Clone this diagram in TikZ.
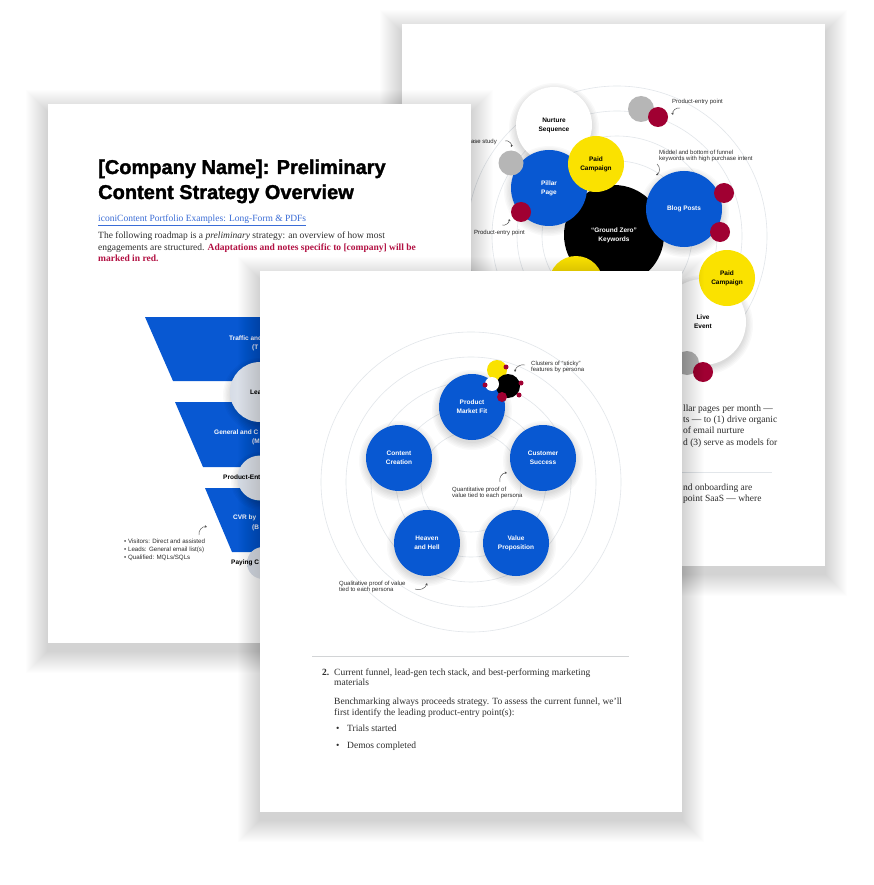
\documentclass[tikz,border=0pt]{standalone}
\usepackage{fontspec}
\newfontfamily\lsans{Liberation Sans}
\newfontfamily\heavy{Liberation Sans}[BoldFeatures={FakeBold=1.6}]
\newfontfamily\lserif{Liberation Serif}
\usetikzlibrary{arrows.meta}
\definecolor{iblue}{RGB}{8,88,210}
\definecolor{iyellow}{RGB}{250,226,0}
\definecolor{ired}{RGB}{160,0,50}
\definecolor{igray}{RGB}{182,182,182}
\definecolor{ringcol}{RGB}{226,230,234}
\definecolor{txt}{RGB}{45,45,45}
\definecolor{crimson}{RGB}{178,16,66}
\definecolor{linkblue}{RGB}{58,108,214}
\definecolor{fgray}{RGB}{214,220,230}
\newcommand\cshadow[3]{\foreach \k in {0,...,5}{\pgfmathsetmacro\rr{#3+\k*1.4}\fill[black,opacity=0.022] (#1,{#2+3}) circle[radius=\rr pt];}}
\newcommand\pshadow[4]{\foreach \k in {1,...,22}{\fill[black,opacity=0.0095] ({#1-\k},{#2-\k+8}) rectangle ({#3+\k},{#4+\k+8});}}
\tikzset{
 page/.style={fill=white, draw=none},
 ringc/.style={draw=ringcol, line width=0.6pt},
 dot/.style={circle, inner sep=0pt, draw=none, align=center, font=\lsans\bfseries\fontsize{6.5}{9}\selectfont},
 bluec/.style={dot, fill=iblue, text=white},
 yelc/.style={dot, fill=iyellow, text=black},
 blkc/.style={dot, fill=black, text=white},
 whc/.style={dot, fill=white, text=black},
 redc/.style={dot, fill=ired},
 grayc/.style={dot, fill=igray},
 note/.style={font=\lsans\fontsize{6}{6.8}\selectfont, text=txt, align=left, inner sep=0pt},
 body/.style={font=\lserif\fontsize{9.5}{11}\selectfont, text=txt, inner sep=0pt, anchor=base west},
 fun/.style={font=\lsans\bfseries\fontsize{6.5}{8}\selectfont, text=white, inner sep=0pt, anchor=west},
 funk/.style={font=\lsans\bfseries\fontsize{6.5}{8}\selectfont, text=black, inner sep=0pt, anchor=west},
 fcirc/.style={circle, inner sep=0pt, left color=fgray, right color=white},
 narrow/.style={-{Stealth[length=2.4pt,width=2.4pt]}, draw=txt!85, line width=0.45pt},
}
\begin{document}
\begin{tikzpicture}[x=1pt,y=-1pt]
\useasboundingbox (0,0) rectangle (873,885);
\fill[white] (0,0) rectangle (873,885);

% ================= back page (B) =================
\pshadow{402}{24}{825}{566}
\fill[page] (402,24) rectangle (825,566);
\foreach \r in {75,100,125,150} \draw[ringc] (617,236) circle[radius=\r pt];
\node[blkc, minimum size=100pt] (gz) at (614,235) {“Ground Zero”\\Keywords};
\cshadow{554}{125}{38}
\node[whc, minimum size=76pt] (nurture) at (554,125) {Nurture\\Sequence};
\cshadow{549}{188}{38}
\node[bluec, minimum size=76pt] (pillar) at (549,188) {Pillar\\Page};
\node[yelc, minimum size=56pt] (paid1) at (596,164) {Paid\\Campaign};
\node[grayc, minimum size=25pt] (g1) at (511,163) {};
\node[redc, minimum size=20pt] (r1) at (521,212) {};
\node[grayc, minimum size=26pt] (g2) at (641,109) {};
\node[redc, minimum size=20pt] (r2) at (658,117) {};
\cshadow{684}{209}{38}
\node[bluec, minimum size=76pt] (blog) at (684,209) {Blog Posts};
\node[redc, minimum size=20pt] (r3) at (724,193) {};
\node[redc, minimum size=20pt] (r4) at (720,232) {};
\node[yelc, minimum size=54pt] (y3) at (576,283) {};
\cshadow{703}{322}{43}
\node[whc, minimum size=86pt] (live) at (703,322) {Live\\Event};
\node[yelc, minimum size=56pt] (paid2) at (727,278) {Paid\\Campaign};
\node[grayc, minimum size=24pt] (g3) at (687,363) {};
\node[redc, minimum size=20pt] (r5) at (703,372) {};

\node[note, anchor=east] (casestudy) at (497,142) {Case study};
\coordinate (ca1) at (505,141); \coordinate (ca2) at (511,147);
\draw[narrow] (ca1) to[bend left=70] (ca2);
\node[note, anchor=east] (pep1) at (525,233) {Product-entry point};
\coordinate (pa1) at (502,225); \coordinate (pa2) at (509,219);
\draw[narrow] (pa1) to[bend right=60] (pa2);
\node[note, anchor=west] (pep2) at (672,102) {Product-entry point};
\coordinate (pb1) at (680,108); \coordinate (pb2) at (673,115);
\draw[narrow] (pb1) to[bend right=60] (pb2);
\node[note, anchor=west] (middel) at (659,156) {Middel and bottom of funnel\\keywords with high purchase intent};
\coordinate (ma1) at (657,164); \coordinate (ma2) at (656,175);
\draw[narrow] (ma1) to[bend left=60] (ma2);

\node[body] (bt1) at (683,411) {llar pages per month —};
\node[body] (bt2) at (683,422) {ts — to (1) drive organic};
\node[body] (bt3) at (683,433) {of email nurture};
\node[body] (bt4) at (683,445) {d (3) serve as models for};
\coordinate (hr1) at (640,472); \coordinate (hr2) at (772,472);
\draw[ringcol, line width=1pt] (hr1) -- (hr2);
\node[body] (bt5) at (683,490) {nd onboarding are};
\node[body] (bt6) at (683,501) {point SaaS — where};

% ================= left page (A) =================
\pshadow{48}{104}{471}{643}
\fill[page] (48,104) rectangle (471,643);
\node[font=\heavy\bfseries\fontsize{20}{24}\selectfont, text=black, inner sep=0pt, anchor=base west] (title1) at (98,174) {[Company Name]: Preliminary};
\node[font=\heavy\bfseries\fontsize{20}{24}\selectfont, text=black, inner sep=0pt, anchor=base west] (title2) at (98,199) {Content Strategy Overview};
\node[body, text=linkblue] (link) at (98,222) {\underline{iconiContent Portfolio Examples: Long-Form \& PDFs}};
\node[body] (pa) at (98,239) {The following roadmap is a \textit{preliminary} strategy: an overview of how most};
\node[body] (pb) at (98,250) {engagements are structured. {\color{crimson}\bfseries Adaptations and notes specific to [company] will be}};
\node[body, text=crimson, font=\lserif\bfseries\fontsize{9.5}{11}\selectfont] (pc) at (98,261) {marked in red.};

\fill[iblue] (145,317) -- (375,317) -- (347,381) -- (173,381) -- cycle;
\fill[iblue] (175,402) -- (345,402) -- (317,467) -- (203,467) -- cycle;
\fill[iblue] (205,488) -- (315,488) -- (288,552) -- (232,552) -- cycle;
\node[fun] (f1a) at (229,338) {Traffic and};
\node[fun] (f1b) at (252,348) {(T};
\node[fun] (f2a) at (214,432) {General and C};
\node[fun] (f2b) at (252,442) {(M};
\node[fun] (f3a) at (233,518) {CVR by};
\node[fun] (f3b) at (252,528) {(B};
\cshadow{260}{392}{30}
\node[fcirc, minimum size=60pt] (c1) at (260,392) {};
\node[funk] (c1l) at (250,392) {Leads};
\cshadow{260}{478}{22}
\node[fcirc, minimum size=45pt] (c2) at (260,478) {};
\node[funk] (c2l) at (223,478) {Product-Entry};
\node[fcirc, minimum size=32pt] (c3) at (263,563) {};
\node[funk] (c3l) at (231,563) {Paying C};
\node[note, font=\lsans\fontsize{6.2}{8}\selectfont, anchor=north west] (bul) at (124,539) {• Visitors: Direct and assisted\\• Leads: General email list(s)\\• Qualified: MQLs/SQLs};
\coordinate (fa1) at (199,535); \coordinate (fa2) at (207,527);
\draw[narrow] (fa1) to[bend left=60] (fa2);

% ================= front page (C) =================
\pshadow{260}{271}{682}{812}
\fill[page] (260,271) rectangle (682,812);
\foreach \r in {50,75,100,125,150} \draw[ringc] (471,482) circle[radius=\r pt];
\foreach \x/\y in {472/407,543/458,516/543,427/543,399/458} {\cshadow{\x}{\y}{33}}
\node[bluec, minimum size=66pt] (pmf) at (472,407) {Product\\Market Fit};
\node[bluec, minimum size=66pt] (cs) at (543,458) {Customer\\Success};
\node[bluec, minimum size=66pt] (vp) at (516,543) {Value\\Proposition};
\node[bluec, minimum size=66pt] (hh) at (427,543) {Heaven\\and Hell};
\node[bluec, minimum size=66pt] (cc) at (399,458) {Content\\Creation};
\node[yelc, minimum size=20pt] (ky) at (497,370) {};
\node[blkc, minimum size=24pt] (kb) at (508,386) {};
\node[whc, minimum size=14pt] (kw) at (492,384) {};
\node[redc, minimum size=10pt] (kr) at (502,397) {};
\node[redc, minimum size=5pt] (kr1) at (506,367) {};
\node[redc, minimum size=5pt] (kr2) at (485,385) {};
\node[redc, minimum size=5pt] (kr3) at (521,383) {};
\node[redc, minimum size=5pt] (kr4) at (519,395) {};
\node[note, anchor=west] (clus) at (531,367) {Clusters of “sticky”\\features by persona};
\coordinate (ka1) at (525,365); \coordinate (ka2) at (515,372);
\draw[narrow] (ka1) to[bend right=50] (ka2);
\node[note, anchor=west] (quant) at (452,493) {Quantitative proof of\\value tied to each persona};
\coordinate (qa1) at (500,482); \coordinate (qa2) at (507,473);
\draw[narrow] (qa1) to[bend left=60] (qa2);
\node[note, anchor=west] (qual) at (339,587) {Qualitative proof of value\\tied to each persona};
\coordinate (la1) at (415,589); \coordinate (la2) at (427,583);
\draw[narrow] (la1) to[bend right=50] (la2);

\coordinate (h1) at (312,656); \coordinate (h2) at (629,656);
\draw[ringcol!80!black!60, line width=0.9pt] (h1) -- (h2);
\node[body, font=\lserif\bfseries\fontsize{9.5}{11}\selectfont] (n2) at (322,675) {2.};
\node[body] (c1t) at (334,675) {Current funnel, lead-gen tech stack, and best-performing marketing};
\node[body] (c2t) at (334,685) {materials};
\node[body] (c3t) at (334,704) {Benchmarking always proceeds strategy. To assess the current funnel, we’ll};
\node[body] (c4t) at (334,715) {first identify the leading product-entry point(s):};
\node[body] (b1) at (336,731) {•};
\node[body] (b1t) at (347,731) {Trials started};
\node[body] (b2) at (336,748) {•};
\node[body] (b2t) at (347,748) {Demos completed};
\end{tikzpicture}
\end{document}
